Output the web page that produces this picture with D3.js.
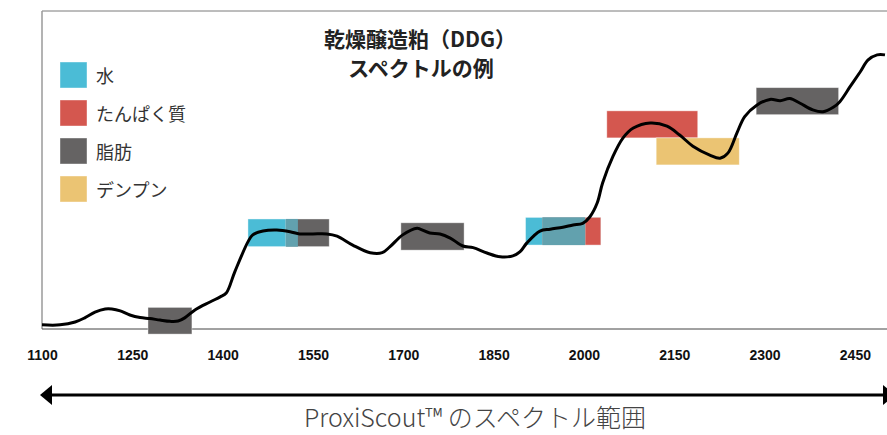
<!DOCTYPE html>
<html>
<head>
<meta charset="utf-8">
<script src="https://cdn.jsdelivr.net/npm/d3@7"></script>
<style>
  html, body { margin: 0; padding: 0; background: #fff; }
  svg { display: block; }
</style>
</head>
<body>
<div id="chart"></div>
<script>
// spectrum of DDG (wavelength nm, relative absorbance)
const wavelengths = [1100, 1130, 1155, 1171, 1188, 1205, 1216, 1230, 1246, 1263, 1279, 1296, 1313, 1326, 1337, 1354,
  1379, 1396, 1406, 1420, 1442, 1450, 1467, 1490, 1512, 1528, 1550, 1573, 1590, 1616, 1645, 1665, 1678, 1699,
  1723, 1728, 1744, 1761, 1778, 1799, 1816, 1839, 1861, 1882, 1894, 1905, 1927, 1944, 1965, 1982, 1998, 2010,
  2022, 2031, 2048, 2065, 2082, 2110, 2138, 2159, 2181, 2209, 2226, 2239, 2254, 2267, 2287, 2309, 2326, 2342,
  2359, 2380, 2397, 2414, 2425, 2442, 2459, 2472, 2487, 2500];
const absorbance = [0.013, 0.013, 0.022, 0.035, 0.053, 0.063, 0.063, 0.057, 0.044, 0.036, 0.033, 0.028, 0.024, 0.025, 0.035, 0.060,
  0.085, 0.101, 0.113, 0.179, 0.274, 0.296, 0.308, 0.311, 0.306, 0.299, 0.299, 0.299, 0.292, 0.264, 0.240, 0.240, 0.259, 0.296,
  0.317, 0.314, 0.302, 0.299, 0.286, 0.261, 0.256, 0.239, 0.227, 0.230, 0.243, 0.270, 0.308, 0.314, 0.320, 0.327, 0.332, 0.353,
  0.396, 0.459, 0.542, 0.601, 0.632, 0.648, 0.638, 0.610, 0.575, 0.547, 0.537, 0.553, 0.616, 0.668, 0.704, 0.722, 0.718, 0.725,
  0.710, 0.689, 0.683, 0.697, 0.715, 0.762, 0.809, 0.846, 0.862, 0.862];

const components = ["水", "たんぱく質", "脂肪", "デンプン"];

// absorption bands: component index, wavelength range, absorbance range
const bandComponent = [2, 0, 2, 2, 0, 2, 1, 1, 3, 2];
const bandFrom = [1276, 1442, 1505, 1696, 1903, 1931, 2002, 2038, 2120, 2286];
const bandTo   = [1349, 1525, 1577, 1801, 2002, 2028, 2028, 2189, 2258, 2423];
const bandLow  = [-0.016, 0.259, 0.259, 0.248, 0.264, 0.264, 0.264, 0.601, 0.516, 0.674];
const bandHigh = [0.068, 0.346, 0.346, 0.334, 0.351, 0.351, 0.351, 0.686, 0.601, 0.759];

const tickValues = [1100, 1250, 1400, 1550, 1700, 1850, 2000, 2150, 2300, 2450];

const colors = ["#4bbcd6", "#d4574f", "#656363", "#ebc473"];
const overlapColor = "#62a1ae";

const width = 887;
const height = 435;
const plotLeft = 42, plotTop = 11, plotBottom = 329, plotRight = 885;

const svg = d3.select("#chart")
  .append("svg")
    .attr("width", width)
    .attr("height", height)
    .attr("viewBox", [0, 0, width, height]);

const x = d3.scaleLinear()
  .domain([1100, 2500])
  .range([plotLeft, plotRight]);

const y = d3.scaleLinear()
  .domain([0, 1])
  .range([plotBottom, plotTop]);

// frame
svg.append("line")
  .attr("x1", plotLeft).attr("y1", plotTop)
  .attr("x2", width).attr("y2", plotTop)
  .attr("stroke", "#7a7a7a").attr("stroke-width", 1);
svg.append("line")
  .attr("x1", plotLeft).attr("y1", plotTop)
  .attr("x2", plotLeft).attr("y2", plotBottom)
  .attr("stroke", "#9a9a9a").attr("stroke-width", 1.5);
svg.append("line")
  .attr("x1", plotLeft).attr("y1", plotBottom)
  .attr("x2", width).attr("y2", plotBottom)
  .attr("stroke", "#444").attr("stroke-width", 1);

// bands
const bands = bandFrom.map((f, i) => ({
  c: bandComponent[i], from: f, to: bandTo[i], lo: bandLow[i], hi: bandHigh[i]
}));

svg.append("g")
  .selectAll("rect")
  .data(bands)
  .join("rect")
    .attr("x", d => x(d.from))
    .attr("y", d => y(d.hi))
    .attr("width", d => x(d.to) - x(d.from))
    .attr("height", d => y(d.lo) - y(d.hi))
    .attr("fill", d => colors[d.c])
    .attr("stroke", "#fff")
    .attr("stroke-opacity", 0.5)
    .attr("stroke-width", 0.8);

// where water and fat bands overlap the colours mix
const overlaps = [];
bands.forEach(a => {
  if (a.c !== 0) return;
  bands.forEach(b => {
    if (b.c !== 2) return;
    const f = Math.max(a.from, b.from), t = Math.min(a.to, b.to);
    if (t > f && a.lo === b.lo) overlaps.push({ from: f, to: t, lo: a.lo, hi: a.hi });
  });
});

svg.append("g")
  .selectAll("rect")
  .data(overlaps)
  .join("rect")
    .attr("x", d => x(d.from))
    .attr("y", d => y(d.hi))
    .attr("width", d => x(d.to) - x(d.from))
    .attr("height", d => y(d.lo) - y(d.hi))
    .attr("fill", overlapColor);

// spectrum
const line = d3.line()
  .x((d, i) => x(wavelengths[i]))
  .y(d => y(d))
  .curve(d3.curveCatmullRom.alpha(0.5));

svg.append("path")
  .datum(absorbance)
  .attr("d", line)
  .attr("fill", "none")
  .attr("stroke", "#000")
  .attr("stroke-width", 3)
  .attr("stroke-linejoin", "round");

// x axis labels
const xAxis = d3.axisBottom(x)
  .tickValues(tickValues)
  .tickSize(0)
  .tickPadding(21)
  .tickFormat(d3.format("d"));

svg.append("g")
  .attr("transform", `translate(0,${plotBottom})`)
  .call(xAxis)
  .call(g => g.select(".domain").remove())
  .selectAll("text")
    .attr("font-family", "'Liberation Sans', Arial, sans-serif")
    .attr("font-weight", "bold")
    .attr("font-size", 14)
    .attr("fill", "#111");

// legend
const legend = svg.append("g")
  .selectAll("g")
  .data(components)
  .join("g")
    .attr("transform", (d, i) => `translate(60,${62 + i * 38})`);

legend.append("rect")
  .attr("width", 27)
  .attr("height", 26)
  .attr("fill", (d, i) => colors[i])
  .attr("stroke", "#fff")
  .attr("stroke-opacity", 0.5)
  .attr("stroke-width", 0.8);

legend.append("text")
  .attr("x", 36)
  .attr("y", 13)
  .attr("dominant-baseline", "central")
  .attr("font-family", "'Noto Sans CJK JP', sans-serif")
  .attr("font-size", 18)
  .attr("fill", "#333")
  .text(d => d);

// title
const title = svg.append("text")
  .attr("text-anchor", "middle")
  .attr("font-family", "'Noto Sans CJK JP', sans-serif")
  .attr("font-weight", "bold")
  .attr("font-size", 21)
  .attr("fill", "#222");
title.append("tspan").attr("x", 420).attr("y", 47).text("乾燥醸造粕（DDG）");
title.append("tspan").attr("x", 421).attr("y", 76).text("スペクトルの例");

// range arrow
const arrowY = 395;
svg.append("line")
  .attr("x1", 48).attr("y1", arrowY)
  .attr("x2", 888).attr("y2", arrowY)
  .attr("stroke", "#000").attr("stroke-width", 3);
svg.append("path")
  .attr("d", `M40,${arrowY} L52,${arrowY - 10} L52,${arrowY + 10} Z`)
  .attr("fill", "#000");
svg.append("path")
  .attr("d", `M895,${arrowY} L883,${arrowY - 10} L883,${arrowY + 10} Z`)
  .attr("fill", "#000");

svg.append("text")
  .attr("x", 475)
  .attr("y", 427)
  .attr("text-anchor", "middle")
  .attr("font-family", "'Noto Sans CJK JP', sans-serif")
  .attr("font-weight", 300)
  .attr("font-size", 25)
  .attr("fill", "#444")
  .text("ProxiScout™ のスペクトル範囲");
</script>
</body>
</html>
